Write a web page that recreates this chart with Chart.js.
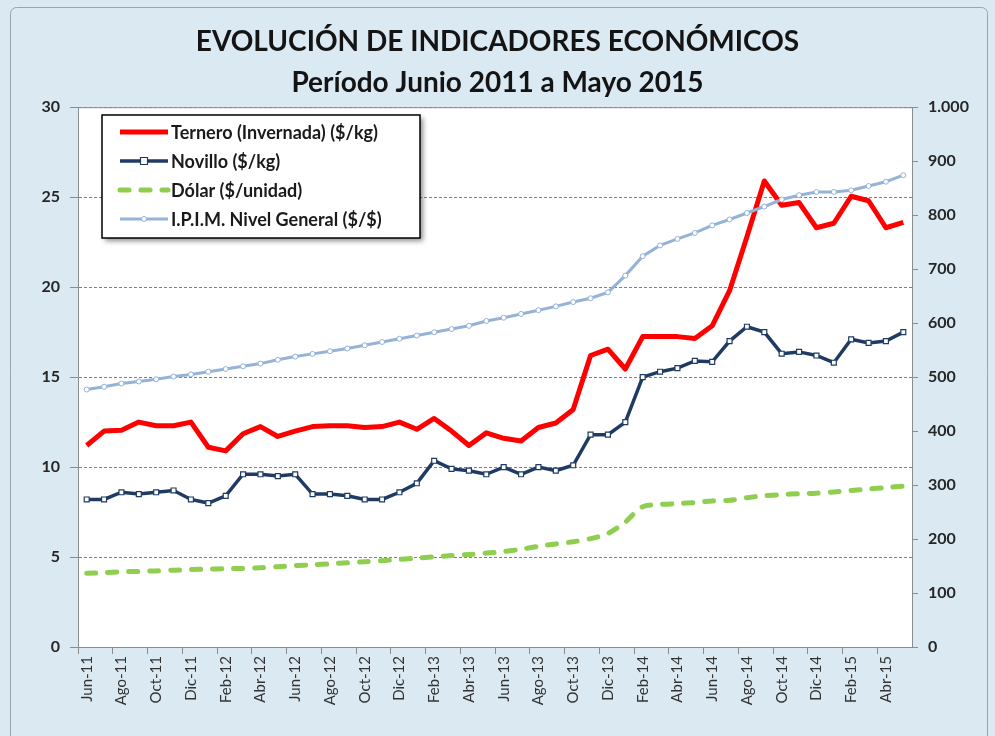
<!DOCTYPE html>
<html>
<head>
<meta charset="utf-8">
<script src="https://cdn.jsdelivr.net/npm/chart.js@4.4.0/dist/chart.umd.min.js"></script>
<style>
  html, body { margin: 0; padding: 0; background: #dbe9f2; }
  #wrap { width: 995px; height: 736px; position: relative; }
</style>
</head>
<body>
<div id="wrap"><canvas id="grafico"></canvas></div>
<script>
// meses Jun-11 .. May-15
const meses = [
  "Jun-11", "Jul-11", "Ago-11", "Sep-11", "Oct-11", "Nov-11", "Dic-11",
  "Ene-12", "Feb-12", "Mar-12", "Abr-12", "May-12", "Jun-12", "Jul-12", "Ago-12", "Sep-12", "Oct-12", "Nov-12", "Dic-12",
  "Ene-13", "Feb-13", "Mar-13", "Abr-13", "May-13", "Jun-13", "Jul-13", "Ago-13", "Sep-13", "Oct-13", "Nov-13", "Dic-13",
  "Ene-14", "Feb-14", "Mar-14", "Abr-14", "May-14", "Jun-14", "Jul-14", "Ago-14", "Sep-14", "Oct-14", "Nov-14", "Dic-14",
  "Ene-15", "Feb-15", "Mar-15", "Abr-15", "May-15"
];

const ternero = [11.2, 12.0, 12.05, 12.5, 12.3, 12.3, 12.5, 11.1, 10.9, 11.85,
  12.25, 11.7, 12.0, 12.25, 12.3, 12.3, 12.2, 12.25, 12.5, 12.1,
  12.7, 12.0, 11.2, 11.9, 11.6, 11.45, 12.2, 12.45, 13.2, 16.2,
  16.55, 15.45, 17.25, 17.25, 17.25, 17.15, 17.85, 19.8, 22.8, 25.9,
  24.55, 24.7, 23.3, 23.55, 25.05, 24.8, 23.3, 23.6];

const novillo = [8.2, 8.2, 8.6, 8.5, 8.6, 8.7, 8.2, 8.0, 8.4, 9.6,
  9.6, 9.5, 9.6, 8.5, 8.5, 8.4, 8.2, 8.2, 8.6, 9.1,
  10.35, 9.9, 9.8, 9.6, 10.0, 9.6, 10.0, 9.8, 10.1, 11.8,
  11.8, 12.5, 15.0, 15.3, 15.5, 15.9, 15.85, 17.0, 17.8, 17.5,
  16.3, 16.4, 16.2, 15.8, 17.1, 16.9, 17.0, 17.5];

const dolar = [4.1, 4.13, 4.18, 4.2, 4.23, 4.27, 4.3, 4.33, 4.35, 4.37,
  4.41, 4.46, 4.52, 4.57, 4.62, 4.68, 4.74, 4.8, 4.87, 4.94,
  5.01, 5.08, 5.14, 5.22, 5.31, 5.43, 5.6, 5.73, 5.85, 6.02,
  6.31, 6.95, 7.8, 7.92, 7.97, 8.03, 8.12, 8.15, 8.3, 8.41,
  8.47, 8.52, 8.55, 8.62, 8.7, 8.78, 8.86, 8.94];

const ipim = [477, 482, 488, 492, 496, 501, 505, 510, 515, 520,
  525, 532, 538, 543, 548, 553, 559, 565, 571, 577,
  583, 589, 595, 604, 610, 617, 624, 631, 639, 646,
  657, 688, 724, 744, 756, 767, 781, 792, 804, 816,
  829, 837, 843, 843, 846, 854, 862, 874];

const titulo = ["EVOLUCIÓN DE INDICADORES ECONÓMICOS", "Período Junio 2011 a Mayo 2015"];
const fuente = "Lato, 'Open Sans', sans-serif";
const gris = "#8c8c8c";

// fondo celeste, marco exterior y area de trazado blanca
const fondo = {
  id: "fondo",
  beforeDraw(chart) {
    const c = chart.ctx, a = chart.chartArea;
    c.save();
    c.fillStyle = "#dbe9f2";
    c.fillRect(0, 0, chart.width, chart.height);
    c.strokeStyle = "#9aa5ad";
    c.lineWidth = 1;
    c.beginPath();
    c.roundRect(10.5, 7.5, 977, 760, 6);
    c.stroke();
    c.fillStyle = "#ffffff";
    c.fillRect(a.left, a.top, a.right - a.left, a.bottom - a.top);
    c.restore();
  },
  beforeDatasetsDraw(chart) {
    const c = chart.ctx, a = chart.chartArea;
    c.save();
    c.strokeStyle = gris;
    c.lineWidth = 1;
    c.beginPath();
    c.moveTo(a.left, a.top + 0.5);
    c.lineTo(a.right, a.top + 0.5);
    c.stroke();
    c.restore();
  }
};

// leyenda en recuadro con sombra, dentro del area
const leyenda = {
  id: "leyenda",
  afterDraw(chart) {
    const c = chart.ctx;
    const x = 102, y = 115, w = 318, h = 123;
    c.save();
    c.shadowColor = "rgba(0,0,0,0.45)";
    c.shadowBlur = 5;
    c.shadowOffsetX = 3;
    c.shadowOffsetY = 3;
    c.fillStyle = "#ffffff";
    c.fillRect(x, y, w, h);
    c.restore();
    c.save();
    c.strokeStyle = "#000000";
    c.lineWidth = 1.5;
    c.strokeRect(x, y, w, h);
    c.font = "bold 18px " + fuente;
    c.textBaseline = "middle";
    chart.data.datasets.forEach((ds, i) => {
      const yy = y + 17 + i * 29;
      c.strokeStyle = ds.borderColor;
      c.lineWidth = ds.borderWidth;
      c.lineCap = ds.borderCapStyle || "butt";
      c.setLineDash(ds.borderDash || []);
      c.beginPath();
      c.moveTo(120, yy);
      c.lineTo(168, yy);
      c.stroke();
      c.setLineDash([]);
      if (ds.pointRadius > 0) {
        c.fillStyle = "#ffffff";
        c.strokeStyle = ds.pointBorderColor;
        c.lineWidth = ds.pointBorderWidth;
        const r = ds.pointRadius;
        c.beginPath();
        if (ds.pointStyle === "rect") c.rect(144 - r, yy - r, 2 * r, 2 * r);
        else c.arc(144, yy, r, 0, Math.PI * 2);
        c.fill();
        c.stroke();
      }
      c.fillStyle = "#1a1a1a";
      c.fillText(ds.label, 171, yy + 1);
    });
    c.restore();
  }
};

new Chart(document.getElementById("grafico"), {
  type: "line",
  data: {
    labels: meses,
    datasets: [
      {
        label: "Ternero (Invernada) ($/kg)",
        data: ternero,
        yAxisID: "y",
        borderColor: "#ff0000",
        borderWidth: 5,
        borderJoinStyle: "round",
        pointRadius: 0,
        order: 1
      },
      {
        label: "Novillo ($/kg)",
        data: novillo,
        yAxisID: "y",
        borderColor: "#1f3b63",
        borderWidth: 3.5,
        pointStyle: "rect",
        pointRadius: 3.5,
        pointBackgroundColor: "#ffffff",
        pointBorderColor: "#1f3b63",
        pointBorderWidth: 1.2,
        order: 2
      },
      {
        label: "Dólar ($/unidad)",
        data: dolar,
        yAxisID: "y",
        borderColor: "#8fce4f",
        borderWidth: 5,
        borderDash: [9, 12],
        borderCapStyle: "round",
        tension: 0.3,
        pointRadius: 0,
        order: 3
      },
      {
        label: "I.P.I.M. Nivel General ($/$)",
        data: ipim,
        yAxisID: "y1",
        borderColor: "#95b3d7",
        borderWidth: 3,
        pointStyle: "circle",
        pointRadius: 2.5,
        pointBackgroundColor: "#ffffff",
        pointBorderColor: "#95b3d7",
        pointBorderWidth: 1,
        order: 0
      }
    ]
  },
  options: {
    responsive: true,
    maintainAspectRatio: false,
    animation: false,
    devicePixelRatio: 1,
    events: [],
    layout: { padding: 0 },
    plugins: {
      legend: { display: false },
      tooltip: { enabled: false },
      title: {
        display: true,
        text: titulo,
        color: "#141414",
        font: { family: fuente, size: 28, weight: "bold", lineHeight: 1.45 },
        padding: { top: 22, bottom: 4 }
      }
    },
    scales: {
      x: {
        offset: true,
        grid: {
          offset: true,
          drawOnChartArea: false,
          tickLength: 7,
          color: ctx => ctx.index % 2 === 0 ? gris : "rgba(0,0,0,0)"
        },
        border: { color: gris },
        ticks: {
          autoSkip: false,
          minRotation: 90,
          maxRotation: 90,
          padding: 2,
          color: "#333333",
          font: { family: fuente, size: 15 },
          callback: (v, i) => i % 2 === 0 ? meses[i] : ""
        },
        afterFit: s => { s.height = 89; }
      },
      y: {
        position: "left",
        min: 0,
        max: 30,
        ticks: {
          stepSize: 5,
          padding: 10,
          color: "#262626",
          font: { family: fuente, size: 16, weight: "bold" }
        },
        grid: { color: "#808080", tickLength: 8, tickColor: gris },
        border: { color: gris, dash: [3, 2] },
        afterFit: s => { s.width = 78; }
      },
      y1: {
        position: "right",
        min: 0,
        max: 1000,
        ticks: {
          stepSize: 100,
          padding: 10,
          color: "#262626",
          font: { family: fuente, size: 16, weight: "bold" },
          callback: v => v.toLocaleString("de-DE")
        },
        grid: { drawOnChartArea: false, tickLength: 6, color: gris },
        border: { color: gris },
        afterFit: s => { s.width = 83; }
      }
    }
  },
  plugins: [fondo, leyenda]
});
</script>
</body>
</html>
